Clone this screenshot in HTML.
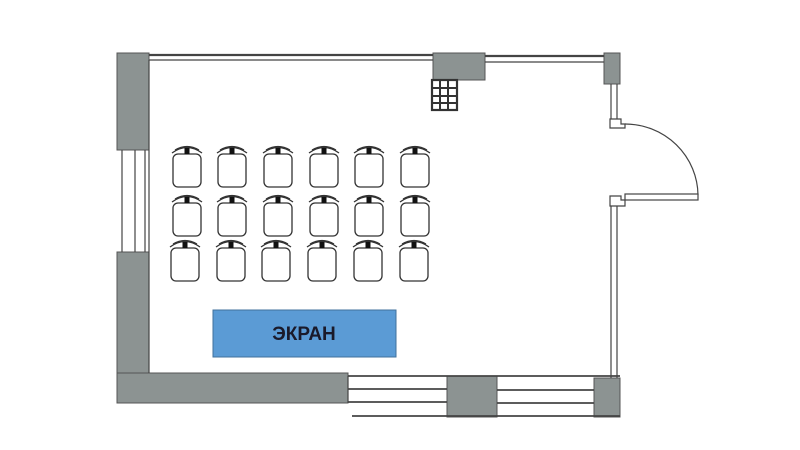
<!DOCTYPE html>
<html><head><meta charset="utf-8"><style>html,body{margin:0;padding:0;background:#fff}svg{display:block}</style></head>
<body>
<svg width="800" height="450" viewBox="0 0 800 450" xmlns="http://www.w3.org/2000/svg">
<defs>
<g id="ch" fill="none" stroke="#333" stroke-width="1.3">
<rect x="-14" y="6" width="28" height="33" rx="5" fill="#fff"/>
<path d="M-15 5 Q0 -6 15 5" />
<path d="M-12 2 Q0 -5 12 2" />
<line x1="-3" y1="-1" x2="3" y2="-1"/>
<rect x="-2.5" y="0" width="5" height="6" fill="#111" stroke="none"/>
</g>
</defs>
<rect width="800" height="450" fill="#fff"/>
<g fill="#8c9392" stroke="#555" stroke-width="1">
<rect x="117" y="53" width="32" height="97"/>
<rect x="117" y="252" width="32" height="151"/>
<rect x="117" y="373" width="231" height="30"/>
<rect x="447" y="376" width="50" height="41"/>
<rect x="594" y="378" width="26" height="39"/>
<rect x="433" y="53" width="52" height="27"/>
<rect x="604" y="53" width="16" height="31"/>
</g>
<g stroke="#444" stroke-width="1.2" fill="none">
<line x1="122" y1="150" x2="122" y2="252"/>
<line x1="135" y1="150" x2="135" y2="252"/>
<line x1="145" y1="150" x2="145" y2="252"/>
<line x1="149" y1="55" x2="433" y2="55" stroke-width="2.2"/>
<line x1="149" y1="60" x2="433" y2="60"/>
<line x1="485" y1="56" x2="604" y2="56" stroke-width="2.2"/>
<line x1="485" y1="62" x2="604" y2="62"/>
<line x1="149" y1="60" x2="149" y2="373"/>
<rect x="432" y="80" width="25" height="30" stroke-width="2.2" stroke="#333"/>
<g stroke-width="2" stroke="#333">
<line x1="440" y1="80" x2="440" y2="110"/><line x1="448" y1="80" x2="448" y2="110"/>
<line x1="432" y1="88" x2="457" y2="88"/><line x1="432" y1="96" x2="457" y2="96"/><line x1="432" y1="103" x2="457" y2="103"/>
</g>
<line x1="611" y1="84" x2="611" y2="120"/><line x1="617" y1="84" x2="617" y2="120"/>
<line x1="611" y1="206" x2="611" y2="378"/><line x1="617" y1="206" x2="617" y2="378"/>
<path d="M610 119 H621 V124 H625 V128 H610 Z" fill="#fff"/>
<path d="M610 196 H621 V200 H625 V206 H610 Z" fill="#fff"/>
<path d="M625 124 A73 72 0 0 1 698 195"/>
<rect x="625" y="194" width="73" height="6" fill="#fff"/>
<line x1="348" y1="376" x2="620" y2="376" stroke-width="1.8"/>
<line x1="348" y1="389" x2="447" y2="389" stroke-width="1.8"/>
<line x1="348" y1="402" x2="447" y2="402" stroke-width="1.8"/>
<line x1="352" y1="416" x2="620" y2="416" stroke-width="1.8"/>
<line x1="497" y1="390" x2="594" y2="390" stroke-width="1.8"/>
<line x1="497" y1="403" x2="594" y2="403" stroke-width="1.8"/>
<line x1="348" y1="376" x2="348" y2="403"/>
</g>
<g>
<use href="#ch" x="187" y="148"/><use href="#ch" x="232" y="148"/><use href="#ch" x="278" y="148"/><use href="#ch" x="324" y="148"/><use href="#ch" x="369" y="148"/><use href="#ch" x="415" y="148"/>
<use href="#ch" x="187" y="197"/><use href="#ch" x="232" y="197"/><use href="#ch" x="278" y="197"/><use href="#ch" x="324" y="197"/><use href="#ch" x="369" y="197"/><use href="#ch" x="415" y="197"/>
<use href="#ch" x="185" y="242"/><use href="#ch" x="231" y="242"/><use href="#ch" x="276" y="242"/><use href="#ch" x="322" y="242"/><use href="#ch" x="368" y="242"/><use href="#ch" x="414" y="242"/>
</g>
<rect x="213" y="310" width="183" height="47" fill="#5b9bd5" stroke="#41719c" stroke-width="1"/>
<text x="304" y="340" text-anchor="middle" font-family="Liberation Sans, sans-serif" font-weight="bold" font-size="19" fill="#1a1a2a">ЭКРАН</text>
</svg>
</body></html>
